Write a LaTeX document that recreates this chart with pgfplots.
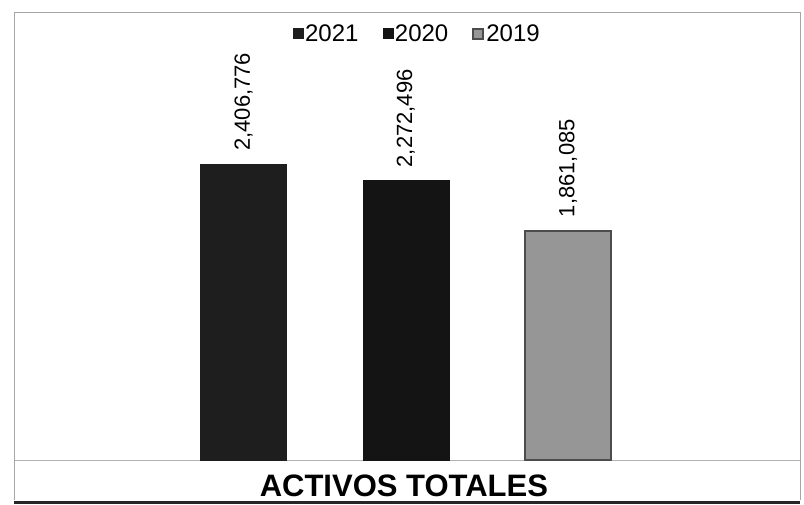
\documentclass[border=0pt]{standalone}
\usepackage{fontspec}
\setmainfont{Liberation Sans}
\usepackage{pgfplots}
\pgfplotsset{compat=1.18}
\definecolor{c2021}{HTML}{1E1E1E}
\definecolor{c2020}{HTML}{141414}
\definecolor{c2019}{HTML}{969696}
\begin{document}
\begin{tikzpicture}
\begin{axis}[
  scale only axis, width=786pt, height=487pt,
  xmin=-1.4145, xmax=3.430, ymin=-325230, ymax=3634440,
  axis line style={draw=none}, ticks=none,
  ybar, bar width=86pt,
  point meta=explicit symbolic,
  nodes near coords,
  every node near coord/.append style={rotate=90, anchor=west, inner xsep=13pt, inner ysep=0pt,
    font=\fontsize{22}{22}\selectfont, text=black},
  legend style={at={(0.513,0.985)}, anchor=north, draw=none, fill=none, legend columns=3,
    font=\fontsize{24}{24}\selectfont,
    /tikz/every even column/.append style={column sep=22pt}},
  legend image code/.code={\fill[#1] (0pt,-5pt) rectangle (10pt,5pt);},
  clip=false,
]
\draw[gray!60, line width=1pt] ({rel axis cs:0,0}|-{axis cs:0,0}) -- ({rel axis cs:1,0}|-{axis cs:0,0});
\addplot[fill=c2021, draw=c2021, bar shift=0pt] coordinates {(0,2406776) [2,406,776]};
\addlegendentry{2021}
\addplot[fill=c2020, draw=c2020, bar shift=0pt] coordinates {(1,2272496) [2,272,496]};
\addlegendentry{2020}
\addplot[fill=c2019, draw=black!70, line width=2pt, bar shift=0pt] coordinates {(2,1861085) [1,861,085]};
\addlegendentry{2019}
\node[anchor=base, font=\bfseries\fontsize{31}{31}\selectfont] at ([yshift=4pt]rel axis cs:0.496,0) {ACTIVOS TOTALES};
\end{axis}
\draw[gray!70, line width=1pt] (current axis.south west) -- (current axis.north west) -- (current axis.north east) -- (current axis.south east);
\draw[black!85, line width=3pt] ([yshift=-2pt]current axis.south west) -- ([yshift=-2pt]current axis.south east);
\path[use as bounding box] ([shift={(-14pt,-4pt)}]current axis.south west) rectangle ([shift={(4pt,13pt)}]current axis.north east);
\end{tikzpicture}
\end{document}
